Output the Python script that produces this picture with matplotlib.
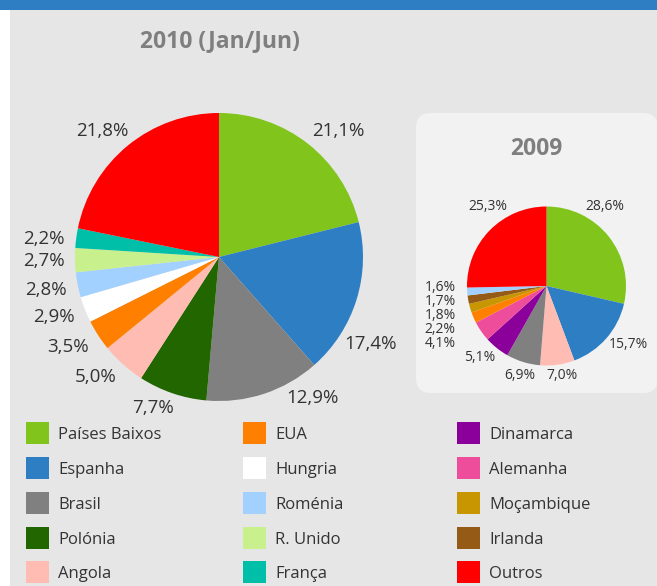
import matplotlib.pyplot as plt
from matplotlib.patches import Rectangle, FancyBboxPatch
import numpy as np

plt.rcParams['font.family'] = ['Open Sans', 'DejaVu Sans']

W, H = 657, 586

# colours per country
colors = {
    'Países Baixos': '#80c41c', 'Espanha': '#2e7ec4', 'Brasil': '#808080',
    'Polónia': '#226600', 'Angola': '#ffbcb2', 'EUA': '#ff8000',
    'Hungria': '#ffffff', 'Roménia': '#a3d1ff', 'R. Unido': '#c8f08c',
    'França': '#00bfa8', 'Dinamarca': '#8b009b', 'Alemanha': '#ee4d9b',
    'Moçambique': '#c89600', 'Irlanda': '#955a16', 'Outros': '#ff0000',
}

# data 2010 (Jan/Jun)
names_2010 = ['Países Baixos', 'Espanha', 'Brasil', 'Polónia', 'Angola', 'EUA',
              'Hungria', 'Roménia', 'R. Unido', 'França', 'Outros']
values_2010 = [21.1, 17.4, 12.9, 7.7, 5.0, 3.5, 2.9, 2.8, 2.7, 2.2, 21.8]

# data 2009
names_2009 = ['Países Baixos', 'Espanha', 'Angola', 'Brasil', 'Dinamarca', 'Alemanha',
              'EUA', 'Moçambique', 'Irlanda', 'Roménia', 'Outros']
values_2009 = [28.6, 15.7, 7.0, 6.9, 5.1, 4.1, 2.2, 1.8, 1.7, 1.6, 25.3]

legend_cols = [
    ['Países Baixos', 'Espanha', 'Brasil', 'Polónia', 'Angola'],
    ['EUA', 'Hungria', 'Roménia', 'R. Unido', 'França'],
    ['Dinamarca', 'Alemanha', 'Moçambique', 'Irlanda', 'Outros'],
]

# label positions (in pie radius units)
lab_pos_2010 = [(0.83, 0.875), (1.05, -0.605), (0.65, -0.98), (-0.46, -1.05),
                (-0.86, -0.83), (-1.05, -0.625), (-1.145, -0.415), (-1.20, -0.23),
                (-1.215, -0.03), (-1.215, 0.125), (-0.81, 0.875)]
lab_pos_2009 = [(0.74, 0.995), (1.025, -0.74), (0.195, -1.13), (-0.335, -1.13),
                (-0.835, -0.905), (-1.34, -0.72), (-1.34, -0.545), (-1.34, -0.37),
                (-1.34, -0.195), (-1.34, -0.02), (-0.74, 0.995)]
leader_2009 = [False, False, False, False, False, True, True, True, True, True, False]


def fmt(v):
    return f'{v:.1f}%'.replace('.', ',')


def px_axes(x0, y0, x1, y1):
    return fig.add_axes([x0 / W, 1 - y1 / H, (x1 - x0) / W, (y1 - y0) / H])


fig = plt.figure(figsize=(W / 100, H / 100), dpi=100)
fig.patch.set_facecolor('white')

bg = fig.add_axes([0, 0, 1, 1])
bg.set_xlim(0, W)
bg.set_ylim(H, 0)
bg.axis('off')
bg.add_patch(Rectangle((10, 0), W - 10, H, color='#e6e6e6', lw=0))
bg.add_patch(Rectangle((0, 0), W, 10, color='#2e7ec4', lw=0))
bg.add_patch(FancyBboxPatch((431, 128), 212, 250, boxstyle='round,pad=15',
                            fc='#f2f2f2', ec='none'))

bg.text(220, 41, '2010 (Jan/Jun)', ha='center', va='center', fontsize=16.5,
        fontweight='bold', color='#7f7f7f')
bg.text(536, 149, '2009', ha='center', va='center', fontsize=16.5,
        fontweight='bold', color='#7f7f7f')


def draw_pie(ax, names, values, positions, fsize, leaders=None):
    wedges, _ = ax.pie(values, colors=[colors[n] for n in names], startangle=90,
                       counterclock=False, wedgeprops=dict(linewidth=0))
    ax.set_xlim(-1, 1)
    ax.set_ylim(-1, 1)
    ax.axis('off')
    for i, (w, v, (lx, ly)) in enumerate(zip(wedges, values, positions)):
        if leaders is not None and leaders[i]:
            mid = np.deg2rad((w.theta1 + w.theta2) / 2)
            ax.annotate(fmt(v), xy=(np.cos(mid), np.sin(mid)), xytext=(lx, ly),
                        ha='center', va='center', fontsize=fsize - 0.5,
                        color='#333333',
                        arrowprops=dict(arrowstyle='-', color='#333333', lw=0.8,
                                        shrinkA=0, shrinkB=0))
        else:
            ax.text(lx, ly, fmt(v), ha='center', va='center', fontsize=fsize,
                    color='#333333')


ax1 = px_axes(219 - 144, 257 - 144, 219 + 144, 257 + 144)
draw_pie(ax1, names_2010, values_2010, lab_pos_2010, 13.5)

ax2 = px_axes(546.5 - 79.5, 286 - 79.5, 546.5 + 79.5, 286 + 79.5)
draw_pie(ax2, names_2009, values_2009, lab_pos_2009, 10)

# legend
col_x = [26, 243, 457]
row_y = [433, 468, 503, 538, 572]
for c, col in enumerate(legend_cols):
    for r, name in enumerate(col):
        bg.add_patch(Rectangle((col_x[c], row_y[r] - 11), 23, 22,
                               fc=colors[name], ec='none'))
        bg.text(col_x[c] + 32, row_y[r] + 2, name, ha='left', va='center',
                fontsize=12, color='#333333')

fig.savefig('out.png', dpi=100, facecolor=fig.get_facecolor())
